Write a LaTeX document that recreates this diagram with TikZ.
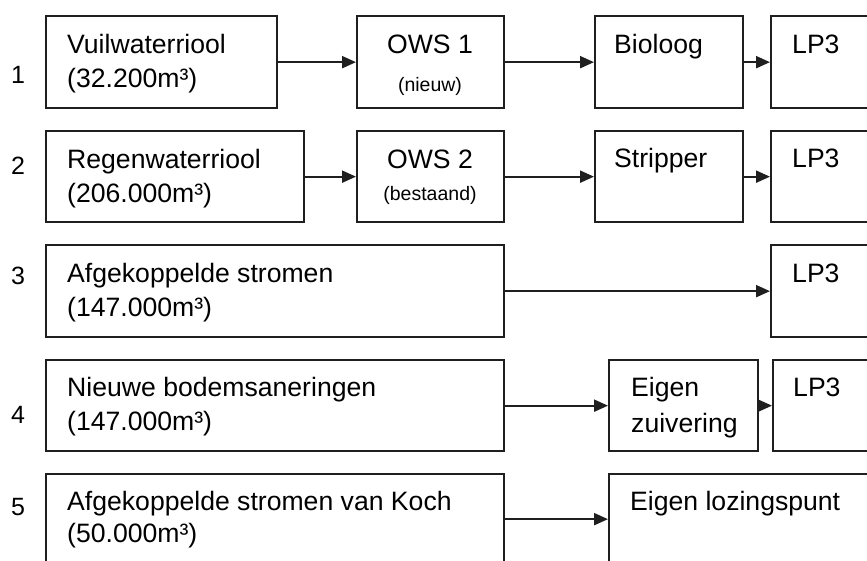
\documentclass[tikz,border=0pt]{standalone}
\usepackage{fontspec}
\setmainfont{Liberation Sans}
\usetikzlibrary{arrows.meta}
\begin{document}
\begin{tikzpicture}[x=1pt,y=-1pt,
  box/.style={draw=black!88, line width=2.3pt, inner sep=0pt, anchor=north west},
  txt/.style={anchor=base west, inner sep=0pt, font=\fontsize{26.6}{30}\selectfont, text=black},
  ctxt/.style={anchor=base, inner sep=0pt, font=\fontsize{26.6}{30}\selectfont, text=black},
  small/.style={anchor=base, inner sep=0pt, font=\fontsize{19.5}{22}\selectfont, text=black},
  num/.style={anchor=center, inner sep=0pt, font=\fontsize{25}{28}\selectfont, text=black},
  arr/.style={draw=black!88, line width=2.1pt, -{Triangle[length=14pt,width=12pt]}}]
\useasboundingbox (0,0) rectangle (867,560);
\clip (0,0) rectangle (867,560);
\fill[white] (0,0) rectangle (867,560);
% boxes
\node[box, minimum width=231pt, minimum height=92pt] (A1) at (45,15) {};
\node[box, minimum width=258pt, minimum height=91pt] (A2) at (45,130) {};
\node[box, minimum width=147pt, minimum height=92pt] (O1) at (356,15) {};
\node[box, minimum width=147pt, minimum height=91pt] (O2) at (356,130) {};
\node[box, minimum width=148pt, minimum height=92pt] (B1) at (594,15) {};
\node[box, minimum width=148pt, minimum height=91pt] (S2) at (594,130) {};
\node[box, minimum width=150pt, minimum height=92pt] (L1) at (770,15) {};
\node[box, minimum width=150pt, minimum height=91pt] (L2) at (770,130) {};
\node[box, minimum width=458pt, minimum height=92pt] (A3) at (45,244) {};
\node[box, minimum width=150pt, minimum height=92pt] (L3) at (770,244) {};
\node[box, minimum width=458pt, minimum height=91pt] (A4) at (45,359) {};
\node[box, minimum width=149pt, minimum height=91pt] (E4) at (608,359) {};
\node[box, minimum width=150pt, minimum height=91pt] (L4) at (772,359) {};
\node[box, minimum width=458pt, minimum height=90pt] (A5) at (45,473) {};
\node[box, minimum width=300pt, minimum height=90pt] (E5) at (608,473) {};
% arrows
\draw[arr] (A1.east) -- (O1.west);
\draw[arr] (O1.east) -- (B1.west);
\draw[arr] (B1.east) -- (L1.west);
\draw[arr] (A2.east) -- (O2.west);
\draw[arr] (O2.east) -- (S2.west);
\draw[arr] (S2.east) -- (L2.west);
\draw[arr] (A3.east) -- (L3.west);
\draw[arr] (A4.east) -- (E4.west);
\draw[arr] (E4.east) -- (L4.west);
\draw[arr] (A5.east) -- (E5.west);
% row numbers
\node[num] (n1) at (18,75) {1};
\node[num] (n2) at (18,166) {2};
\node[num] (n3) at (18,276) {3};
\node[num] (n4) at (18,415) {4};
\node[num] (n5) at (18,507) {5};
% texts row 1
\node[txt] (A1a) at (67,53) {Vuilwaterriool};
\node[txt] (A1b) at (67,87) {(32.200m³)};
\node[ctxt] (O1a) at (430,53) {OWS 1};
\node[small] (O1b) at (430,91) {(nieuw)};
\node[txt] (B1a) at (614,53) {Bioloog};
\node[txt] (L1a) at (792,53) {LP3};
% row 2
\node[txt] (A2a) at (67,168) {Regenwaterriool};
\node[txt] (A2b) at (67,202) {(206.000m³)};
\node[ctxt] (O2a) at (430,168) {OWS 2};
\node[small] (O2b) at (430,200) {(bestaand)};
\node[txt] (S2a) at (614,167) {Stripper};
\node[txt] (L2a) at (792,167) {LP3};
% row 3
\node[txt] (A3a) at (67,282) {Afgekoppelde stromen};
\node[txt] (A3b) at (67,316) {(147.000m³)};
\node[txt] (L3a) at (792,282) {LP3};
% row 4
\node[txt] (A4a) at (67,396) {Nieuwe bodemsaneringen};
\node[txt] (A4b) at (67,430) {(147.000m³)};
\node[txt] (E4a) at (631,396) {Eigen};
\node[txt] (E4b) at (631,432) {zuivering};
\node[txt] (L4a) at (793,396) {LP3};
% row 5
\node[txt] (A5a) at (67,510) {Afgekoppelde stromen van Koch};
\node[txt] (A5b) at (67,542) {(50.000m³)};
\node[txt] (E5a) at (630,510) {Eigen lozingspunt};
\end{tikzpicture}
\end{document}
